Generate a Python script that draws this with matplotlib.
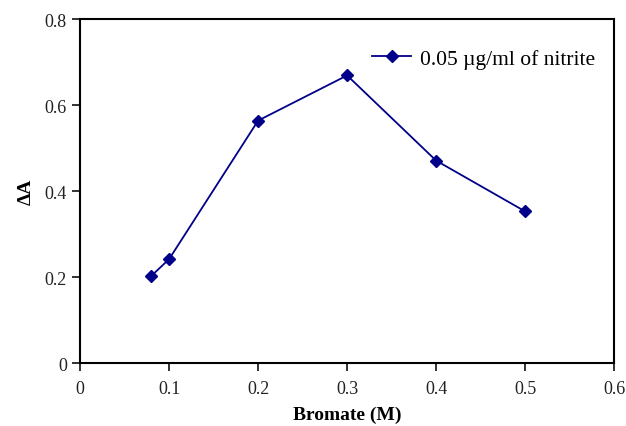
import matplotlib.pyplot as plt

bromate = [0.08, 0.1, 0.2, 0.3, 0.4, 0.5]
delta_a = [0.203, 0.242, 0.564, 0.669, 0.471, 0.353]
series_label = "0.05 \u00b5g/ml of nitrite"

plt.rcParams['font.family'] = ['Liberation Serif', 'DejaVu Serif']

fig = plt.figure(figsize=(6.26, 4.27), dpi=100)
ax = fig.add_axes([0.128, 0.147, 0.853, 0.806])

ax.plot(bromate, delta_a, color='#000088', marker='D', markersize=6.5,
        linewidth=1.3, label=series_label)

ax.set_xlim(0, 0.6)
ax.set_ylim(0, 0.8)
ax.set_xticks([0, 0.1, 0.2, 0.3, 0.4, 0.5, 0.6])
ax.set_xticklabels(['0', '0.1', '0.2', '0.3', '0.4', '0.5', '0.6'])
ax.set_yticks([0, 0.2, 0.4, 0.6, 0.8])
ax.set_yticklabels(['0', '0.2', '0.4', '0.6', '0.8'])
ax.tick_params(direction='out', length=6, width=1.3, labelsize=13, colors='#222222')
ax.tick_params(axis='x', pad=6)
for s in ax.spines.values():
    s.set_linewidth(1.5)

ax.set_xlabel('Bromate (M)', fontsize=14, fontweight='bold', labelpad=6)
ax.set_ylabel('\u0394A', fontsize=14, fontweight='bold', labelpad=7)

ax.legend(loc='upper right', frameon=False, fontsize=15.5,
          bbox_to_anchor=(1.0, 0.97), handlelength=1.8, handletextpad=0.4)

fig.savefig('out.png', dpi=100)
